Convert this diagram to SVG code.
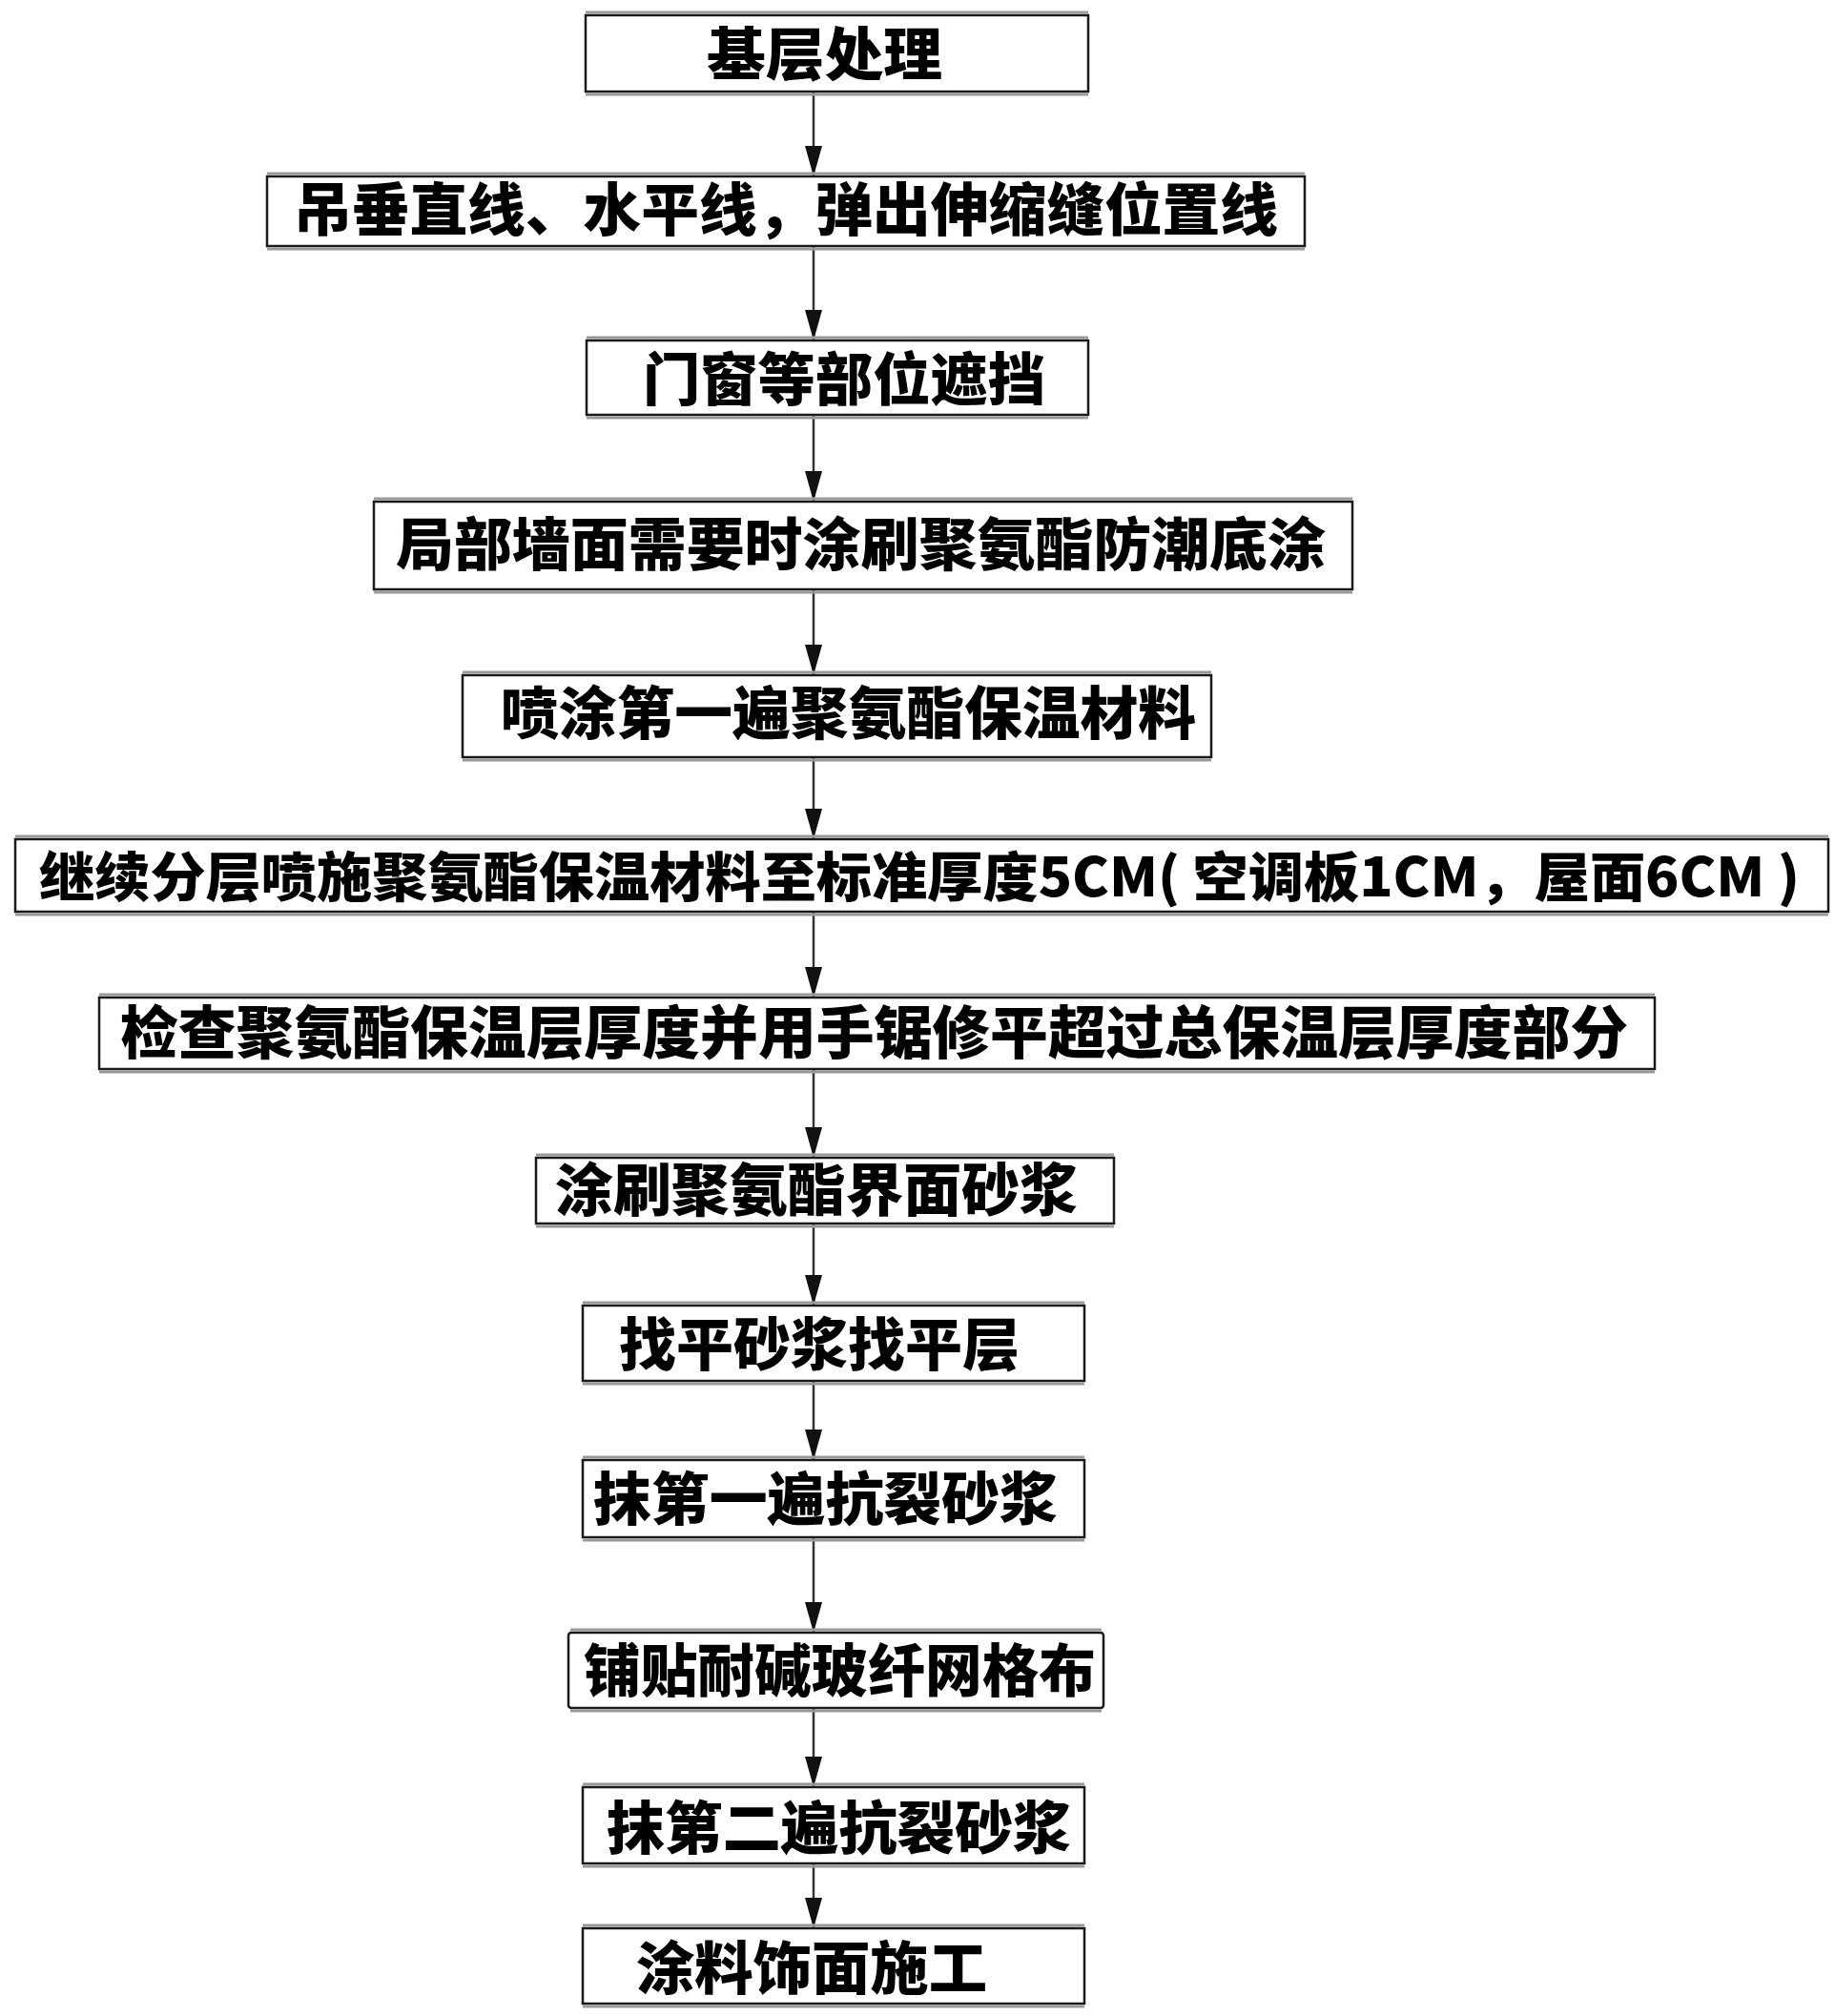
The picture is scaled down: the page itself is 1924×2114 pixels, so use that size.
<svg xmlns="http://www.w3.org/2000/svg" width="1924" height="2114" viewBox="0 0 1924 2114">
<style>
.box{fill:#fff;stroke:#1a1a1a;stroke-width:2.5}
.edge{stroke:#999;stroke-width:3}
.lbl{font-family:"Noto Sans CJK SC","Liberation Sans",sans-serif;font-weight:900;font-size:60px;fill:#000}
.conn{stroke:#333;stroke-width:2.5;fill:none;marker-end:url(#ah)}
</style>
<defs>
<marker id="ah" markerUnits="userSpaceOnUse" markerWidth="32" markerHeight="18" refX="32" refY="9" orient="auto">
<path d="M0,0 L32,9 L0,18 z" fill="#111"/>
</marker>
</defs>
<rect width="1924" height="2114" fill="#fff"/>
<g id="connectors">
<line class="conn" x1="853" y1="96" x2="853" y2="185"/>
<line class="conn" x1="853" y1="258" x2="853" y2="357"/>
<line class="conn" x1="853" y1="435" x2="853" y2="526"/>
<line class="conn" x1="853" y1="618" x2="853" y2="708"/>
<line class="conn" x1="853" y1="794" x2="853" y2="880"/>
<line class="conn" x1="853" y1="956" x2="853" y2="1046"/>
<line class="conn" x1="853" y1="1121" x2="853" y2="1214"/>
<line class="conn" x1="853" y1="1283" x2="853" y2="1369"/>
<line class="conn" x1="853" y1="1448" x2="853" y2="1531"/>
<line class="conn" x1="853" y1="1612" x2="853" y2="1712"/>
<line class="conn" x1="853" y1="1791" x2="853" y2="1874"/>
<line class="conn" x1="853" y1="1954" x2="853" y2="2022"/>
</g>
<g id="n1"><rect class="box" x="614" y="16" width="527" height="80"/><line class="edge" x1="614" y1="13" x2="1141" y2="13"/><line class="edge" x1="614" y1="99" x2="1141" y2="99"/><text class="lbl" x="741" y="79" textLength="247" lengthAdjust="spacingAndGlyphs">基层处理</text></g>
<g id="n2"><rect class="box" x="280" y="185" width="1088" height="73"/><line class="edge" x1="280" y1="182" x2="1368" y2="182"/><line class="edge" x1="280" y1="261" x2="1368" y2="261"/><text class="lbl" x="308" y="242" textLength="1032" lengthAdjust="spacingAndGlyphs">吊垂直线、水平线，弹出伸缩缝位置线</text></g>
<g id="n3"><rect class="box" x="615" y="357" width="526" height="78"/><line class="edge" x1="615" y1="354" x2="1141" y2="354"/><line class="edge" x1="615" y1="438" x2="1141" y2="438"/><text class="lbl" x="674" y="420" textLength="422" lengthAdjust="spacingAndGlyphs">门窗等部位遮挡</text></g>
<g id="n4"><rect class="box" x="392" y="526" width="1026" height="92"/><line class="edge" x1="392" y1="523" x2="1418" y2="523"/><line class="edge" x1="392" y1="621" x2="1418" y2="621"/><text class="lbl" x="415" y="593" textLength="975" lengthAdjust="spacingAndGlyphs">局部墙面需要时涂刷聚氨酯防潮底涂</text></g>
<g id="n5"><rect class="box" x="485" y="708" width="785" height="86"/><line class="edge" x1="485" y1="705" x2="1270" y2="705"/><line class="edge" x1="485" y1="797" x2="1270" y2="797"/><text class="lbl" x="525" y="770" textLength="729" lengthAdjust="spacingAndGlyphs">喷涂第一遍聚氨酯保温材料</text></g>
<g id="n6"><rect class="box" x="16" y="880" width="1901" height="76"/><line class="edge" x1="16" y1="877" x2="1917" y2="877"/><line class="edge" x1="16" y1="959" x2="1917" y2="959"/><text class="lbl" x="41" y="940" font-size="56" style="font-size:56px" textLength="1846" lengthAdjust="spacingAndGlyphs">继续分层喷施聚氨酯保温材料至标准厚度5CM( 空调板1CM，屋面6CM )</text></g>
<g id="n7"><rect class="box" x="104" y="1046" width="1631" height="75"/><line class="edge" x1="104" y1="1043" x2="1735" y2="1043"/><line class="edge" x1="104" y1="1124" x2="1735" y2="1124"/><text class="lbl" x="126" y="1105" textLength="1581" lengthAdjust="spacingAndGlyphs">检查聚氨酯保温层厚度并用手锯修平超过总保温层厚度部分</text></g>
<g id="n8"><rect class="box" x="562" y="1214" width="606" height="69"/><line class="edge" x1="562" y1="1211" x2="1168" y2="1211"/><line class="edge" x1="562" y1="1286" x2="1168" y2="1286"/><text class="lbl" x="582" y="1270" textLength="548" lengthAdjust="spacingAndGlyphs">涂刷聚氨酯界面砂浆</text></g>
<g id="n9"><rect class="box" x="611" y="1369" width="526" height="79"/><line class="edge" x1="611" y1="1366" x2="1137" y2="1366"/><line class="edge" x1="611" y1="1451" x2="1137" y2="1451"/><text class="lbl" x="649" y="1432" textLength="420" lengthAdjust="spacingAndGlyphs">找平砂浆找平层</text></g>
<g id="n10"><rect class="box" x="611" y="1531" width="526" height="81"/><line class="edge" x1="611" y1="1528" x2="1137" y2="1528"/><line class="edge" x1="611" y1="1615" x2="1137" y2="1615"/><text class="lbl" x="622" y="1594" textLength="487" lengthAdjust="spacingAndGlyphs">抹第一遍抗裂砂浆</text></g>
<g id="n11"><rect class="box" x="596" y="1712" width="561" height="79" rx="3"/><line class="edge" x1="598" y1="1709" x2="1155" y2="1709"/><line class="edge" x1="598" y1="1794" x2="1155" y2="1794"/><text class="lbl" x="612" y="1774" textLength="537" lengthAdjust="spacingAndGlyphs">铺贴耐碱玻纤网格布</text></g>
<g id="n12"><rect class="box" x="611" y="1874" width="526" height="80"/><line class="edge" x1="611" y1="1871" x2="1137" y2="1871"/><line class="edge" x1="611" y1="1957" x2="1137" y2="1957"/><text class="lbl" x="636" y="1939" textLength="487" lengthAdjust="spacingAndGlyphs">抹第二遍抗裂砂浆</text></g>
<g id="n13"><rect class="box" x="611" y="2022" width="526" height="79"/><line class="edge" x1="611" y1="2019" x2="1137" y2="2019"/><line class="edge" x1="611" y1="2104" x2="1137" y2="2104"/><text class="lbl" x="667" y="2086" textLength="368" lengthAdjust="spacingAndGlyphs">涂料饰面施工</text></g>
</svg>
